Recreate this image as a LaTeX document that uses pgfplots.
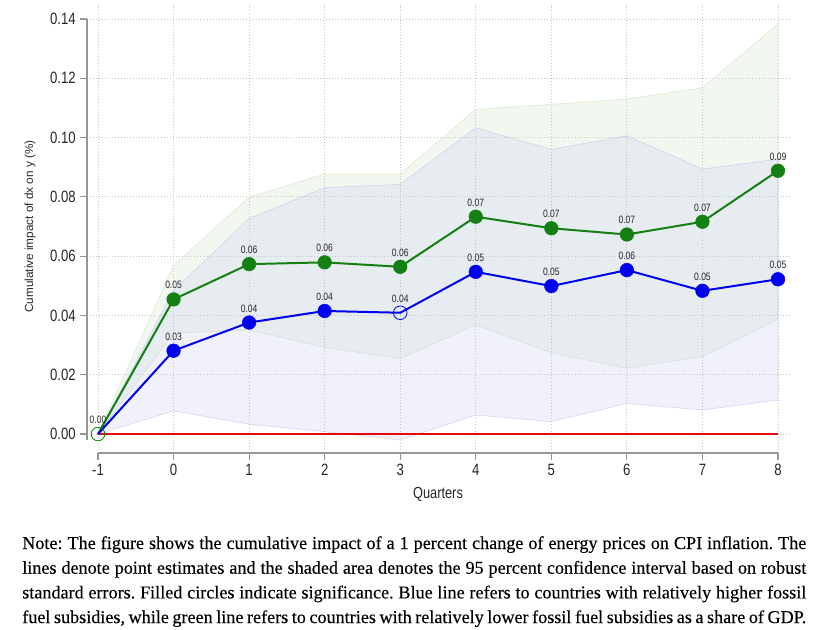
\documentclass[border=0pt]{standalone}
\usepackage{fontspec}
\setmainfont{Liberation Sans}
\newfontfamily\chartfont[FakeStretch=0.8]{Liberation Sans}
\newfontfamily\notefont[FakeBold=0.25]{Liberation Serif}
\usepackage{pgfplots}
\pgfplotsset{compat=1.18}
\definecolor{gline}{RGB}{20,128,20}
\definecolor{bline}{RGB}{0,0,240}
\definecolor{gband}{RGB}{190,222,178}
\definecolor{bband}{RGB}{185,185,238}
\definecolor{axgray}{RGB}{150,150,150}
\definecolor{redline}{RGB}{228,10,10}
\frenchspacing
\begin{document}
\begin{tikzpicture}
\path (0,0) rectangle (620.25pt,-472.5pt);
\begin{axis}[
  at={(65.25pt,-339.75pt)}, anchor=south west,
  scale only axis, width=527.25pt, height=336pt,
  xmin=-1.1456, xmax=8.159, ymin=-0.00641, ymax=0.14472,
  axis x line*=bottom, axis y line*=left,
  x axis line style={axgray, line width=1pt, shorten <=8.25pt, shorten >=9pt},
  y axis line style={axgray, line width=1pt, shorten <=9.75pt, shorten >=10.5pt},
  xtick={-1,0,1,2,3,4,5,6,7,8},
  ytick={0,0.02,0.04,0.06,0.08,0.10,0.12,0.14},
  tick align=outside, major tick length=5pt,
  tick style={axgray, line width=0.8pt},
  grid=major,
  major grid style={gray!45, line width=0.6pt, dash pattern=on 0.7pt off 1.6pt},
  ticklabel style={font=\chartfont\fontsize{12.3}{14}\selectfont, text=black!85},
  xticklabel={\pgfmathprintnumber[assume math mode=true]{\tick}},
  yticklabel={\pgfmathprintnumber[fixed,fixed zerofill,precision=2,assume math mode=true]{\tick}},
  xlabel={Quarters},
  xlabel style={at={(axis description cs:0.4993,-0.0915)}, anchor=center, font=\chartfont\fontsize{12}{14}\selectfont, text=black!85},
  ylabel={Cumulative impact of dx on y (\%)},
  ylabel style={at={(axis description cs:-0.0811,0.5056)}, anchor=center, font=\fontsize{8.8}{10}\selectfont, text=black!85},
]
% green confidence band
\addplot[fill=gband, fill opacity=0.2, draw=gband, draw opacity=0.45, line width=0.6pt] coordinates {
 (-1,0) (0,0.0568) (1,0.0799) (2,0.0877) (3,0.0877) (4,0.1095) (5,0.1112) (6,0.1130) (7,0.1168) (8,0.1383)
 (8,0.0387) (7,0.0261) (6,0.0222) (5,0.0274) (4,0.0368) (3,0.0255) (2,0.0292) (1,0.0351) (0,0.0340)
} -- cycle;
% blue confidence band
\addplot[fill=bband, fill opacity=0.2, draw=bband, draw opacity=0.45, line width=0.6pt] coordinates {
 (-1,0) (0,0.0484) (1,0.0727) (2,0.0831) (3,0.0842) (4,0.1033) (5,0.0960) (6,0.1006) (7,0.0894) (8,0.0927)
 (8,0.0115) (7,0.0081) (6,0.0103) (5,0.0042) (4,0.0064) (3,-0.0020) (2,0.0008) (1,0.0033) (0,0.0078)
} -- cycle;
% zero line
\addplot[redline, line width=2.2pt] coordinates {(-1,0) (8,0)};
% green line
\addplot[gline, line width=1.5pt] coordinates {
 (-1,0) (0,0.0454) (1,0.0573) (2,0.0579) (3,0.0564) (4,0.0733) (5,0.0694) (6,0.0673) (7,0.0716) (8,0.0888)};
% blue line
\addplot[bline, line width=1.5pt] coordinates {
 (-1,0) (0,0.0281) (1,0.0376) (2,0.0415) (3,0.0409) (4,0.0547) (5,0.0499) (6,0.0553) (7,0.0483) (8,0.0522)};
% filled markers
\addplot[only marks, mark=*, mark size=5.1pt, mark options={draw=gline, fill=gline}] coordinates {
 (0,0.0454) (1,0.0573) (2,0.0579) (3,0.0564) (4,0.0733) (5,0.0694) (6,0.0673) (7,0.0716) (8,0.0888)};
\addplot[only marks, mark=*, mark size=5.1pt, mark options={draw=bline, fill=bline}] coordinates {
 (0,0.0281) (1,0.0376) (2,0.0415) (4,0.0547) (5,0.0499) (6,0.0553) (7,0.0483) (8,0.0522)};
% hollow markers
\addplot[only marks, mark=o, mark size=5.1pt, mark options={draw=gline, line width=0.6pt}] coordinates {(-1,0)};
\addplot[only marks, mark=o, mark size=5.1pt, mark options={draw=bline, line width=0.6pt}] coordinates {(3,0.0409)};
% value labels
\addplot[draw=none, point meta=y, nodes near coords={\pgfmathprintnumber[fixed,fixed zerofill,precision=2,assume math mode=true]{\pgfplotspointmeta}},
 nodes near coords style={font=\chartfont\fontsize{8}{9}\selectfont, anchor=south, inner sep=0pt, yshift=7.6pt, text=black!85}] coordinates {
 (-1,0) (0,0.0454) (1,0.0573) (2,0.0579) (3,0.0564) (4,0.0733) (5,0.0694) (6,0.0673) (7,0.0716) (8,0.0888)};
\addplot[draw=none, point meta=y, nodes near coords={\pgfmathprintnumber[fixed,fixed zerofill,precision=2,assume math mode=true]{\pgfplotspointmeta}},
 nodes near coords style={font=\chartfont\fontsize{8}{9}\selectfont, anchor=south, inner sep=0pt, yshift=7.6pt, text=black!85}] coordinates {
 (0,0.0281) (1,0.0376) (2,0.0415) (3,0.0409) (4,0.0547) (5,0.0499) (6,0.0553) (7,0.0483) (8,0.0522)};
\end{axis}
\begin{scope}[every node/.style={anchor=base west, inner sep=0pt, font=\notefont\fontsize{13.6}{16}\selectfont}]
\node at (16.5pt,-411.75pt) {\makebox[588pt][s]{Note: The figure shows the cumulative impact of a 1 percent change of energy prices on CPI inflation. The}};
\node at (16.5pt,-430.3pt) {\makebox[588pt][s]{lines denote point estimates and the shaded area denotes the 95 percent confidence interval based on robust}};
\node at (16.5pt,-448.8pt) {\makebox[588pt][s]{standard errors. Filled circles indicate significance. Blue line refers to countries with relatively higher fossil}};
\node at (16.5pt,-467.3pt) {\makebox[588pt][s]{fuel subsidies, while green line refers to countries with relatively lower fossil fuel subsidies as a share of GDP.}};
\end{scope}
\end{tikzpicture}
\end{document}
